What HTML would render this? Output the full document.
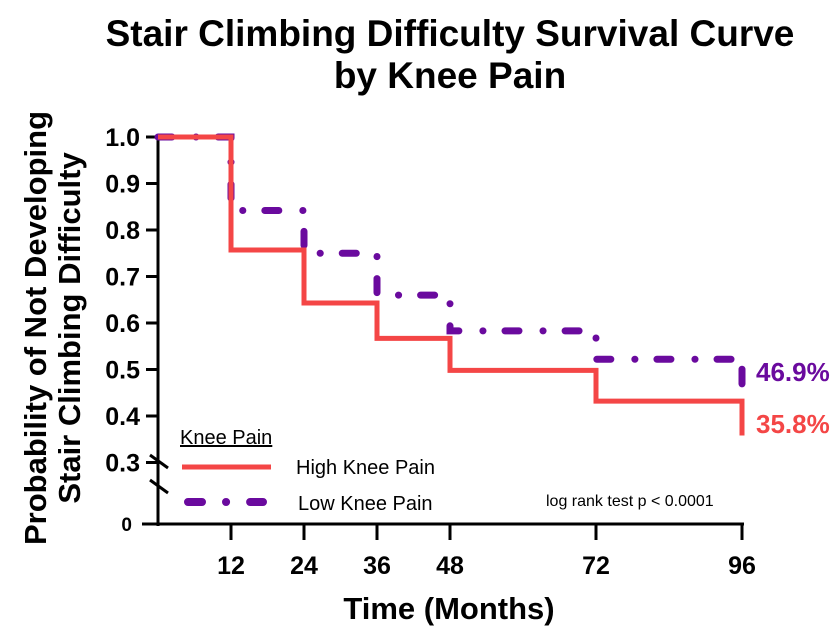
<!DOCTYPE html>
<html><head><meta charset="utf-8"><style>
body{margin:0;background:#fff;}
svg{display:block;font-family:"Liberation Sans",Arial,sans-serif;}
</style></head><body>
<svg id="chart" width="837" height="633" viewBox="0 0 837 633">
<text x="450" y="46" text-anchor="middle" font-size="37" font-weight="bold">Stair Climbing Difficulty Survival Curve</text>
<text x="450" y="88" text-anchor="middle" font-size="37" font-weight="bold">by Knee Pain</text>
<text transform="translate(46,328) rotate(-90)" text-anchor="middle" font-size="31" font-weight="bold">Probability of Not Developing</text>
<text transform="translate(80,328) rotate(-90)" text-anchor="middle" font-size="31" font-weight="bold">Stair Climbing Difficulty</text>
<text x="449" y="619" text-anchor="middle" font-size="31" font-weight="bold">Time (Months)</text>
<g id="axes"></g>
<g id="series"></g>
<g>
<text x="180" y="444" font-size="20" text-decoration="underline">Knee Pain</text>
<line x1="182" y1="467" x2="271" y2="467" stroke="#f44646" stroke-width="5"/>
<text x="296" y="474" font-size="20">High Knee Pain</text>
<line x1="188" y1="502" x2="263" y2="502" stroke="#6a0a9e" stroke-width="8" stroke-linecap="round" stroke-dasharray="14 24 0.1 24 14 60"/>
<text x="298" y="510" font-size="20">Low Knee Pain</text>
</g>
<text x="546" y="506" font-size="16">log rank test p &lt; 0.0001</text>
<text x="756" y="381" font-size="26" font-weight="bold" fill="#6a0a9e">46.9%</text>
<text x="756" y="433" font-size="26" font-weight="bold" fill="#f44646">35.8%</text>
</svg>
<script>
const xTicks=[12,24,36,48,72,96];
const yTicks=[1.0,0.9,0.8,0.7,0.6,0.5,0.4,0.3];
const highTimes=[0,12,24,36,48,72,96];
const highValues=[1.0,0.757,0.643,0.567,0.498,0.432,0.358];
const lowTimes=[0,12,24,36,48,72,96];
const lowValues=[1.0,0.842,0.75,0.66,0.583,0.522,0.469];
const NS='http://www.w3.org/2000/svg';
function X(t){return 158+t*(742-158)/96;}
function Y(v){return 137+(1-v)*465;}
function mk(tag,attrs,parent){const e=document.createElementNS(NS,tag);for(const k in attrs)e.setAttribute(k,attrs[k]);parent.appendChild(e);return e;}
const axes=document.getElementById('axes');
let yl=mk('line',{x1:158,y1:137,x2:158,y2:526,stroke:'#000','stroke-width':3},axes);


let xl=mk('line',{x1:142,y1:524,x2:744,y2:524,stroke:'#000','stroke-width':3},axes);


yTicks.forEach(v=>{
 let t=mk('line',{x1:146,y1:Y(v),x2:158,y2:Y(v),stroke:'#000','stroke-width':3},axes);
 
 
 let l=mk('text',{x:140,y:Y(v)+9,'text-anchor':'end','font-size':25,'font-weight':'bold'},axes);
 l.textContent=v.toFixed(1);
 
 
});
let z=mk('text',{x:132,y:531,'text-anchor':'end','font-size':19,'font-weight':'bold'},axes);
z.textContent='0';


[[150,455,168,468],[150,480,168,493]].forEach(b=>{
 let s=mk('line',{x1:b[0],y1:b[1],x2:b[2],y2:b[3],stroke:'#000','stroke-width':3},axes);
 
 
});
xTicks.forEach(t=>{
 let k=mk('line',{x1:X(t),y1:524,x2:X(t),y2:540,stroke:'#000','stroke-width':3},axes);
 
 
 let l=mk('text',{x:X(t),y:574,'text-anchor':'middle','font-size':25,'font-weight':'bold'},axes);
 l.textContent=t;
 
 
});
function stepPath(ts,vs){let d='M'+X(ts[0])+','+Y(vs[0]);for(let i=1;i<ts.length;i++){d+=' H'+X(ts[i])+' V'+Y(vs[i]);}return d;}
const ser=document.getElementById('series');
let lp=mk('path',{d:stepPath(lowTimes,lowValues),fill:'none',stroke:'#6a0a9e','stroke-width':7,'stroke-linecap':'round','stroke-dasharray':'14 24 0.1 22'},ser);


const n=lowTimes.length-1;
let le=mk('line',{x1:X(lowTimes[n]),y1:Y(lowValues[n-1])+10,x2:X(lowTimes[n]),y2:Y(lowValues[n]),stroke:'#6a0a9e','stroke-width':7,'stroke-linecap':'round'},ser);


let hp=mk('path',{d:stepPath(highTimes,highValues),fill:'none',stroke:'#f44646','stroke-width':5},ser);


</script>
</body></html>
